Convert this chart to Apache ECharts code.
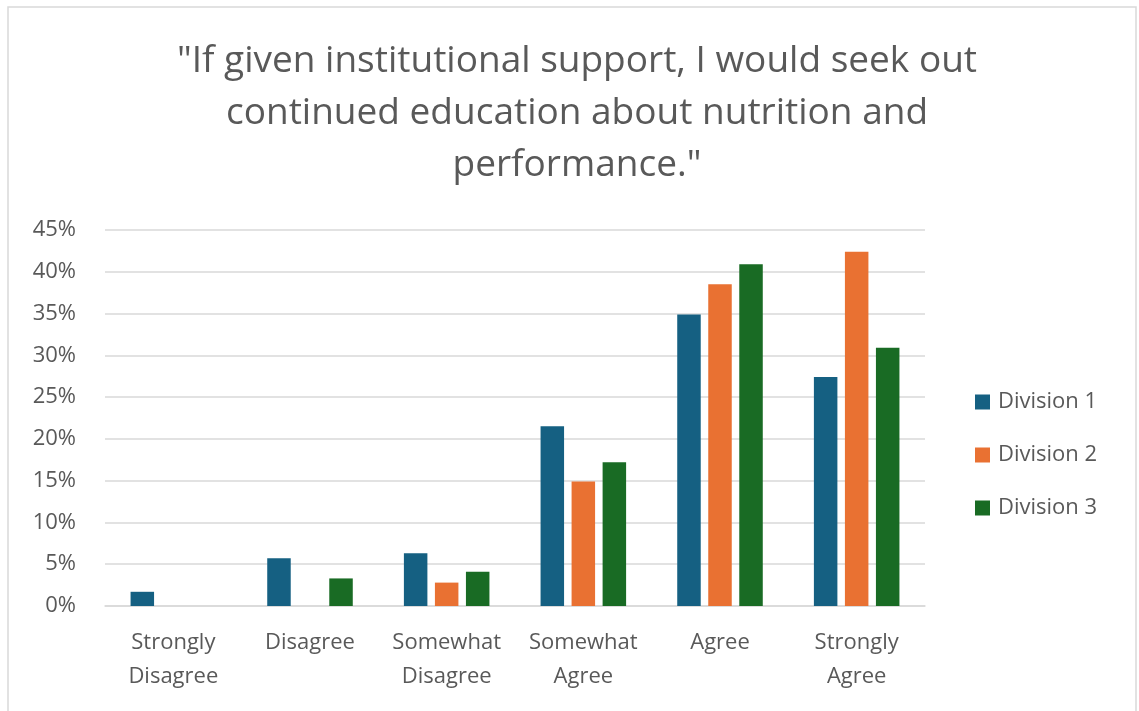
<!DOCTYPE html>
<html>
<head>
<meta charset="utf-8">
<script src="https://cdn.jsdelivr.net/npm/echarts@6/dist/echarts.min.js"></script>
<style>
  html, body { margin: 0; padding: 0; background: #fff; }
  #chart { width: 1139px; height: 711px; }
</style>
</head>
<body>
<div id="chart"></div>
<script>
// Survey response categories (x axis)
const categories = ['Strongly\nDisagree', 'Disagree', 'Somewhat\nDisagree', 'Somewhat\nAgree', 'Agree', 'Strongly\nAgree'];
// Share of respondents per division, in percent
const division1 = [1.7, 5.7, 6.3, 21.5, 34.9, 27.4];
const division2 = [0, 0, 2.8, 14.9, 38.5, 42.4];
const division3 = [0, 3.3, 4.1, 17.2, 40.9, 30.9];
const seriesNames = ['Division 1', 'Division 2', 'Division 3'];
const yTicks = { min: 0, max: 45, interval: 5 };

const TEXT = '#595959';
const FONT = '"Open Sans", "Liberation Sans", sans-serif';
const colors = ['#156082', '#E97132', '#196B24'];

const chart = echarts.init(document.getElementById('chart'), null, { renderer: 'canvas' });

const barSeries = [division1, division2, division3].map((vals, i) => ({
  name: seriesNames[i],
  type: 'bar',
  data: vals,
  barWidth: 23.5,
  barGap: '32%',
  itemStyle: { color: colors[i] }
}));

chart.setOption({
  backgroundColor: '#fff',
  animation: false,
  title: {
    text: '"If given institutional support, I would seek out\ncontinued education about nutrition and\nperformance."',
    left: 572,
    top: 30,
    textAlign: 'center',
    textStyle: {
      fontFamily: FONT,
      fontSize: 37,
      fontWeight: 'normal',
      color: TEXT,
      lineHeight: 52
    }
  },
  legend: {
    orient: 'vertical',
    left: 970,
    top: 386,
    itemWidth: 15,
    itemHeight: 15,
    itemGap: 31,
    icon: 'rect',
    data: seriesNames,
    textStyle: { fontFamily: FONT, fontSize: 22, color: TEXT, lineHeight: 22, padding: [0, 0, 0, 3] }
  },
  grid: { left: 105, top: 230, width: 820, height: 376, containLabel: false },
  xAxis: {
    type: 'category',
    data: categories,
    axisLine: { lineStyle: { color: '#D9D9D9', width: 1.5 } },
    axisTick: { show: false },
    axisLabel: {
      fontFamily: FONT,
      fontSize: 22,
      color: TEXT,
      lineHeight: 34,
      margin: 20,
      interval: 0
    }
  },
  yAxis: {
    type: 'value',
    min: yTicks.min,
    max: yTicks.max,
    interval: yTicks.interval,
    axisLine: { show: false },
    axisTick: { show: false },
    splitLine: { lineStyle: { color: '#D9D9D9', width: 1.5 } },
    axisLabel: {
      fontFamily: FONT,
      fontSize: 22,
      color: TEXT,
      margin: 29,
      formatter: v => v + '%'
    }
  },
  graphic: [{
    type: 'rect',
    shape: { x: 8, y: 7, width: 1128, height: 720 },
    style: { fill: null, stroke: '#D9D9D9', lineWidth: 1.5 },
    silent: true
  }],
  series: barSeries
});
</script>
</body>
</html>
